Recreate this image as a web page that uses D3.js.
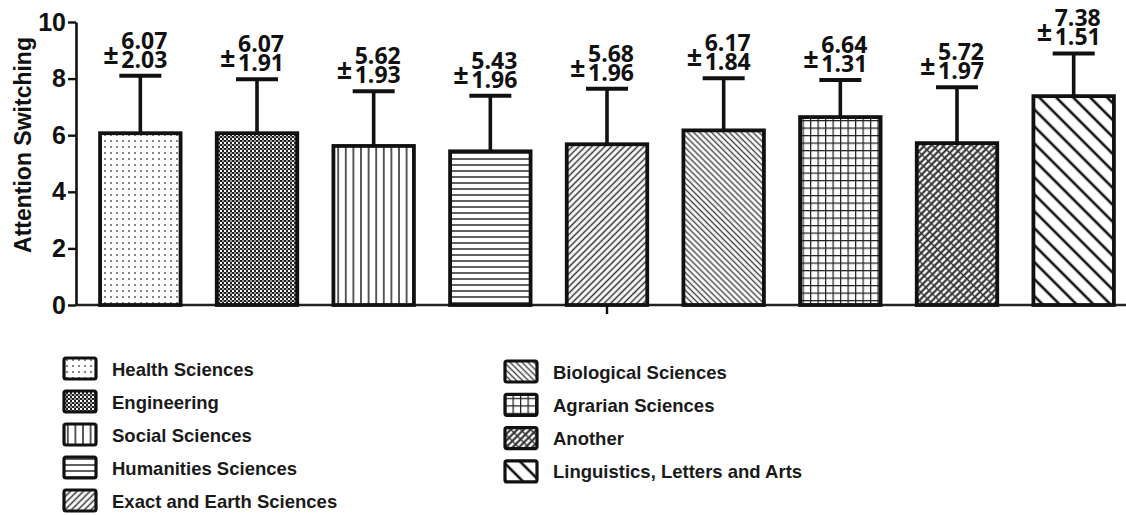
<!DOCTYPE html>
<html>
<head>
<meta charset="utf-8">
<script src="https://cdn.jsdelivr.net/npm/d3@7"></script>
<style>
  html, body { margin: 0; padding: 0; background: #fff; }
  svg { display: block; }
</style>
</head>
<body>
<svg id="chart" width="1126" height="515"></svg>
<script>
const categories = ["Health Sciences", "Engineering", "Social Sciences", "Humanities Sciences",
  "Exact and Earth Sciences", "Biological Sciences", "Agrarian Sciences", "Another",
  "Linguistics, Letters and Arts"];
const means = [6.07, 6.07, 5.62, 5.43, 5.68, 6.17, 6.64, 5.72, 7.38];
const sds = [2.03, 1.91, 1.93, 1.96, 1.96, 1.84, 1.31, 1.97, 1.51];
const yTicks = [0, 2, 4, 6, 8, 10];
const yLabel = "Attention Switching";

const svg = d3.select("#chart");
const defs = svg.append("defs");

// ---- hatch patterns ----
function pat(id, w, h, rot) {
  const p = defs.append("pattern").attr("id", id)
    .attr("patternUnits", "userSpaceOnUse").attr("width", w).attr("height", h);
  if (rot) p.attr("patternTransform", `rotate(${rot})`);
  p.append("rect").attr("width", w).attr("height", h).attr("fill", "#fff");
  return p;
}
// 0 dots
let p = pat("p0", 6, 6);
p.append("circle").attr("cx", 3).attr("cy", 3).attr("r", 1.05).attr("fill", "#666");
// 1 dense checker
p = pat("p1", 4, 4);
p.append("rect").attr("x", 0).attr("y", 0).attr("width", 2).attr("height", 2).attr("fill", "#222");
p.append("rect").attr("x", 2).attr("y", 2).attr("width", 2).attr("height", 2).attr("fill", "#222");
p.append("rect").attr("x", 2).attr("y", 0).attr("width", 2).attr("height", 2).attr("fill", "#999");
// 2 vertical lines
p = pat("p2", 7.6, 8);
p.append("line").attr("x1", 3.8).attr("x2", 3.8).attr("y1", 0).attr("y2", 8).attr("stroke", "#333").attr("stroke-width", 1.6);
// 3 horizontal lines
p = pat("p3", 8, 6);
p.append("line").attr("x1", 0).attr("x2", 8).attr("y1", 3).attr("y2", 3).attr("stroke", "#444").attr("stroke-width", 1.7);
// 4 "/" lines
p = pat("p4", 4.6, 8, 45);
p.append("line").attr("x1", 2.3).attr("x2", 2.3).attr("y1", 0).attr("y2", 8).attr("stroke", "#333").attr("stroke-width", 1.5);
// 5 "\" lines
p = pat("p5", 4.2, 8, -45);
p.append("line").attr("x1", 2.1).attr("x2", 2.1).attr("y1", 0).attr("y2", 8).attr("stroke", "#444").attr("stroke-width", 1.4);
// 6 grid
p = pat("p6", 7.5, 7.5);
p.append("line").attr("x1", 0.6).attr("x2", 0.6).attr("y1", 0).attr("y2", 7.5).attr("stroke", "#222").attr("stroke-width", 1.3);
p.append("line").attr("x1", 0).attr("x2", 7.5).attr("y1", 0.6).attr("y2", 0.6).attr("stroke", "#222").attr("stroke-width", 1.3);
// 7 woven
p = pat("p7", 4.6, 7, 45);
p.append("line").attr("x1", 2.3).attr("x2", 2.3).attr("y1", 0).attr("y2", 7).attr("stroke", "#222").attr("stroke-width", 2);
p.append("line").attr("x1", 0).attr("x2", 4.6).attr("y1", 3.5).attr("y2", 3.5).attr("stroke", "#333").attr("stroke-width", 1.4);
// 8 wide "\"
p = pat("p8", 12, 12, -45);
p.append("line").attr("x1", 6).attr("x2", 6).attr("y1", 0).attr("y2", 12).attr("stroke", "#111").attr("stroke-width", 2.6);

// ---- scales ----
const y = d3.scaleLinear().domain([0, 10]).range([305, 22]);
const x = d3.scaleBand().domain(categories).range([82, 1132]).paddingInner(0.31).paddingOuter(0.155);
const axisLeftX = 76, axisRightX = 1126;

// ---- axes ----
const yAxisG = svg.append("g").attr("transform", `translate(${axisLeftX},0)`)
  .call(d3.axisLeft(y).tickValues(yTicks).tickFormat(d3.format("d")).tickSize(8).tickSizeOuter(0).tickPadding(2));
yAxisG.select(".domain").attr("stroke", "#111").attr("stroke-width", 2.6);
yAxisG.selectAll(".tick line").attr("stroke", "#111").attr("stroke-width", 2.4);
yAxisG.selectAll(".tick text").attr("fill", "#111")
  .style("font-family", "'Liberation Sans', Arial, sans-serif").style("font-weight", "bold").style("font-size", "25px");

svg.append("text")
  .attr("transform", `translate(31,145) rotate(-90)`)
  .attr("text-anchor", "middle")
  .style("font-family", "'Liberation Sans', Arial, sans-serif").style("font-weight", "bold").style("font-size", "23px")
  .attr("fill", "#111").text(yLabel);

// x axis line
svg.append("line").attr("x1", axisLeftX).attr("x2", axisRightX).attr("y1", y(0)).attr("y2", y(0))
  .attr("stroke", "#222").attr("stroke-width", 2.4);
const midCat = categories[Math.floor(categories.length / 2)];
svg.append("line").attr("x1", x(midCat) + x.bandwidth() / 2).attr("x2", x(midCat) + x.bandwidth() / 2)
  .attr("y1", y(0)).attr("y2", y(0) + 9).attr("stroke", "#111").attr("stroke-width", 2.4);

// ---- bars ----
const data = categories.map((c, i) => ({ c, i, m: means[i], s: sds[i] }));
svg.append("g").selectAll("rect").data(data).join("rect")
  .attr("x", d => x(d.c)).attr("width", x.bandwidth())
  .attr("y", d => y(d.m)).attr("height", d => y(0) - y(d.m))
  .attr("fill", d => `url(#p${d.i})`).attr("stroke", "#111").attr("stroke-width", 3.8);

// ---- error bars ----
const eb = svg.append("g").selectAll("g").data(data).join("g");
eb.append("line")
  .attr("x1", d => x(d.c) + x.bandwidth() / 2).attr("x2", d => x(d.c) + x.bandwidth() / 2)
  .attr("y1", d => y(d.m)).attr("y2", d => y(d.m + d.s))
  .attr("stroke", "#111").attr("stroke-width", 3.6);
eb.append("line")
  .attr("x1", d => x(d.c) + x.bandwidth() / 2 - 21).attr("x2", d => x(d.c) + x.bandwidth() / 2 + 21)
  .attr("y1", d => y(d.m + d.s)).attr("y2", d => y(d.m + d.s))
  .attr("stroke", "#111").attr("stroke-width", 4);

// ---- value labels (one text element per bar) ----
const lab = svg.append("g")
  .style("font-family", "'Open Sans', sans-serif").style("font-weight", "bold").style("font-size", "23px")
  .attr("fill", "#111")
  .selectAll("text").data(data).join("text")
  .attr("transform", d => `translate(${x(d.c) + x.bandwidth() / 2 - 19},${y(d.m + d.s) - 8})`);
lab.append("tspan").attr("x", -18).attr("y", -4).style("font-size", "27px").text("±");
lab.append("tspan").attr("x", 0).attr("y", -19).text(d => d.m.toFixed(2));
lab.append("tspan").attr("x", 0).attr("y", 0).text(d => d.s.toFixed(2));

// ---- legend ----
const legLeft = data.slice(0, 5), legRight = data.slice(5);
function legend(items, x0, y0, step) {
  const g = svg.append("g").selectAll("g").data(items).join("g")
    .attr("transform", (d, k) => `translate(${x0},${y0 + k * step})`);
  g.append("rect").attr("x", 0).attr("y", -11).attr("width", 32).attr("height", 21).attr("rx", 2)
    .attr("fill", d => `url(#p${d.i})`).attr("stroke", "#111").attr("stroke-width", 3.2);
  g.append("text").attr("x", 48).attr("y", 6.5)
    .style("font-family", "'Liberation Sans', Arial, sans-serif").style("font-weight", "bold").style("font-size", "18.5px")
    .attr("fill", "#1a1a1a").text(d => d.c);
}
legend(legLeft, 64, 369, 33);
legend(legRight, 505, 372, 33.3);
</script>
</body>
</html>
